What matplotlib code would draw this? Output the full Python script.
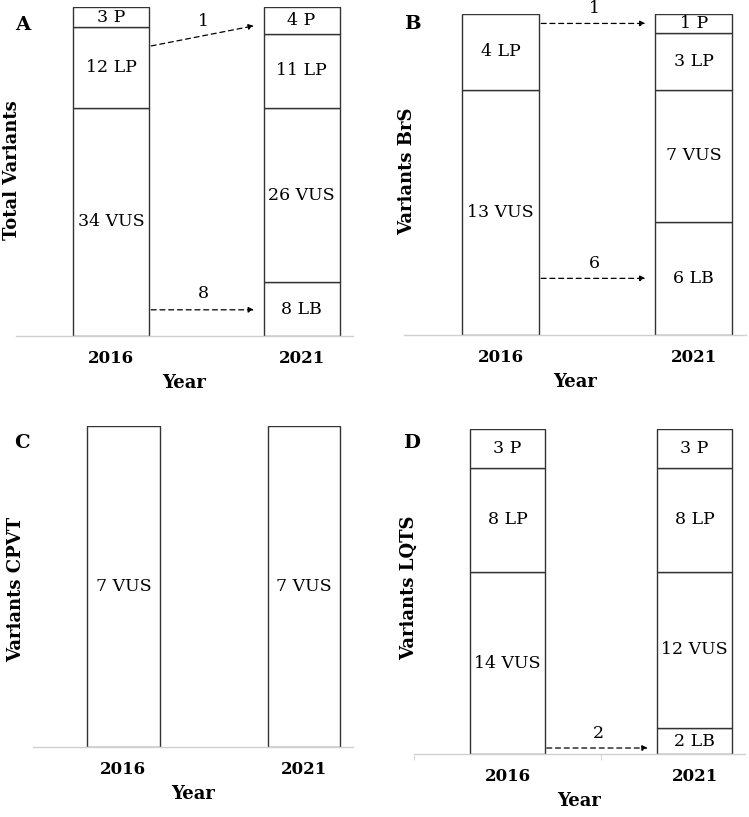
import matplotlib
matplotlib.use("Agg")
import matplotlib.pyplot as plt

plt.rcParams['font.family'] = ['DejaVu Serif']

years = ["2016", "2021"]
categories = ["LB", "VUS", "LP", "P"]  # bottom to top

# counts per panel: [2016 values, 2021 values], in the order of categories
total_counts = [[0, 34, 12, 3], [8, 26, 11, 4]]
brs_counts = [[0, 13, 4, 0], [6, 7, 3, 1]]
cpvt_counts = [[0, 7, 0, 0], [0, 7, 0, 0]]
lqts_counts = [[0, 14, 8, 3], [2, 12, 8, 3]]

panel_letters = ["A", "B", "C", "D"]
panel_ylabels = ["Total Variants", "Variants BrS", "Variants CPVT", "Variants LQTS"]
panel_counts = [total_counts, brs_counts, cpvt_counts, lqts_counts]

# reclassification arrows: (label, y start, y end, y of label)
total_arrows = [("1", 43.2, 46.2, 46.8), ("8", 3.9, 3.9, 6.4)]
brs_arrows = [("1", 16.5, 16.5, 17.3), ("6", 3.0, 3.0, 3.8)]
cpvt_arrows = []
lqts_arrows = [("2", 0.46, 0.46, 1.6)]
panel_arrows = [total_arrows, brs_arrows, cpvt_arrows, lqts_arrows]

W, H = 749, 817
fig = plt.figure(figsize=(W / 100, H / 100), dpi=100)

# axes boxes in pixels: left, right, baseline, top
boxes = [(16, 353, 336, 7), (404, 746, 335, 14), (33, 353, 747, 426), (414, 745, 754, 429)]
ylabel_pos = [(0.014, 0.505), (0.036, 0.51), (-0.024, 0.49), (0.012, 0.51)]
letter_pos = [(23, 25), (412, 24), (22, 443), (412, 443)]

edge = "#333333"
for i in range(4):
    l, r, b, t = boxes[i]
    ax = fig.add_axes([l / W, 1 - b / H, (r - l) / W, (b - t) / H])
    counts = panel_counts[i]
    total = max(sum(c) for c in counts)
    for j, vals in enumerate(counts):
        bottom = 0
        for cat, v in zip(categories, vals):
            if v == 0:
                continue
            ax.bar(j, v, bottom=bottom, width=0.4, color="white", edgecolor=edge, linewidth=1.0)
            ax.text(j, bottom + v / 2, f"{v} {cat}", ha="center", va="center", fontsize=12.5)
            bottom += v
    for lab, y0, y1, ly in panel_arrows[i]:
        ax.annotate("", xy=(0.75, y1), xytext=(0.21, y0),
                    arrowprops=dict(arrowstyle="-|>", linestyle=(0, (4, 3)), color="black",
                                    lw=0.9, mutation_scale=8, shrinkA=0, shrinkB=0),
                    annotation_clip=False)
        ax.text(0.485, ly, lab, ha="center", va="center", fontsize=12.5)
    ax.set_xlim(-0.5, 1.27)
    ax.set_ylim(0, total)
    for s in ["left", "top", "right"]:
        ax.spines[s].set_visible(False)
    ax.spines["bottom"].set_color("#d0d0d0")
    ax.spines["bottom"].set_linewidth(1.0)
    ax.set_yticks([])
    ax.set_xticks([0, 1])
    ax.set_xticklabels(years, fontweight="bold", fontsize=12)
    ax.tick_params(axis="x", length=0, pad=10)
    if i == 3:
        ax.set_xticks([-0.5, 0.5], minor=True)
        ax.tick_params(axis="x", which="minor", length=4, color="#d0d0d0")
    ax.set_xlabel("Year", fontweight="bold", fontsize=13, labelpad=5)
    ax.set_ylabel(panel_ylabels[i], fontweight="bold", fontsize=13)
    ax.yaxis.set_label_coords(*ylabel_pos[i])
    lx, ly = letter_pos[i]
    fig.text(lx / W, 1 - ly / H, panel_letters[i], fontweight="bold", fontsize=14,
             ha="center", va="center")

fig.savefig("out.png", dpi=100)
